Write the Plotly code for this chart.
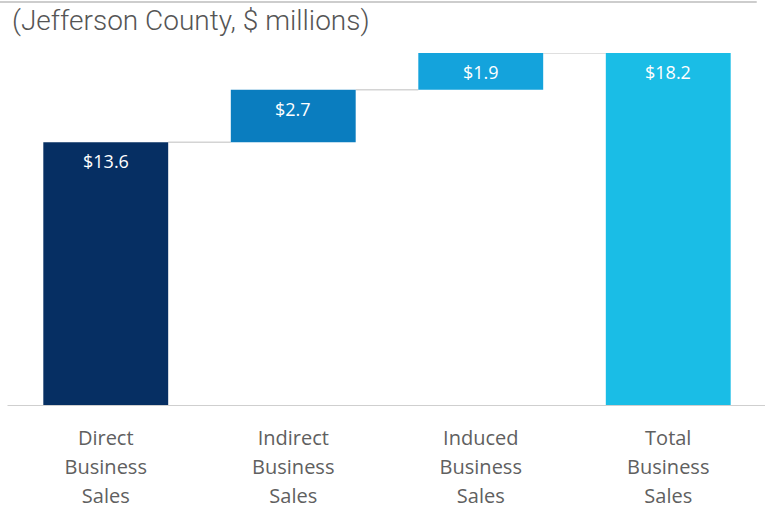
import plotly.graph_objects as go

category_lines = [["Direct", "Business", "Sales"],
                  ["Indirect", "Business", "Sales"],
                  ["Induced", "Business", "Sales"],
                  ["Total", "Business", "Sales"]]
values = [13.6, 2.7, 1.9, 18.2]
kinds = ["absolute", "relative", "relative", "total"]
colors = ["#062F63", "#0A7DBF", "#14A3DC", "#1ABDE6"]
title_text = "(Jefferson County, $ millions)"

# compute bases from data
bases = []
levels = []
running = 0.0
for v, k in zip(values, kinds):
    if k == "absolute":
        bases.append(0.0)
        running = v
    elif k == "relative":
        bases.append(running)
        running += v
    else:
        bases.append(0.0)
    levels.append(running)

BAR_W = 0.666
xs = list(range(len(values)))
ticktext = ["<br>".join(f"<span style='font-size:20px'>{w}</span>" for w in lines)
            for lines in category_lines]

fig = go.Figure()
fig.add_trace(go.Bar(
    x=xs, y=values, base=bases,
    marker=dict(color=colors, line=dict(width=0)),
    width=BAR_W,
    hoverinfo="skip",
))

# value labels
for i, (v, b) in enumerate(zip(values, bases)):
    fig.add_annotation(
        x=i, y=b + v, xref="x", yref="y",
        text=f"${v:.1f}", showarrow=False,
        yanchor="top", yshift=-5,
        font=dict(family="Open Sans", size=18, color="white"),
    )

# connectors
for i in range(len(values) - 1):
    fig.add_shape(type="line", xref="x", yref="y",
                  x0=i + BAR_W / 2, x1=i + 1 - BAR_W / 2,
                  y0=levels[i], y1=levels[i],
                  line=dict(color="#d4d4d4", width=1.5), layer="below")

# baseline
fig.add_shape(type="line", xref="paper", yref="y",
              x0=-0.006, x1=1.004, y0=0, y1=0,
              line=dict(color="#cfcfcf", width=2), layer="above")
# top rule
fig.add_shape(type="line", xref="paper", yref="paper",
              x0=-0.016, x1=0.993, y0=1.1445, y1=1.1445,
              line=dict(color="#bdbdbd", width=1.5))

fig.update_layout(
    width=769, height=517,
    margin=dict(l=12, r=7, t=53, b=111),
    paper_bgcolor="white", plot_bgcolor="white",
    showlegend=False,
    title=dict(text=title_text, xref="container", yref="container",
               x=0.0156, xanchor="left", y=1 - 20 / 517, yanchor="middle",
               font=dict(family="Roboto", size=28, color="#555555", weight=300)),
    xaxis=dict(tickmode="array", tickvals=xs, ticktext=ticktext,
               range=[-0.5, len(values) - 0.5],
               showgrid=False, zeroline=False, showline=False, ticks="",
               ticklabelstandoff=16,
               tickfont=dict(family="Open Sans", size=22.3, color="#606060")),
    yaxis=dict(range=[0, 18.2], visible=False, showgrid=False, zeroline=False),
)

fig.write_html("out.html")
